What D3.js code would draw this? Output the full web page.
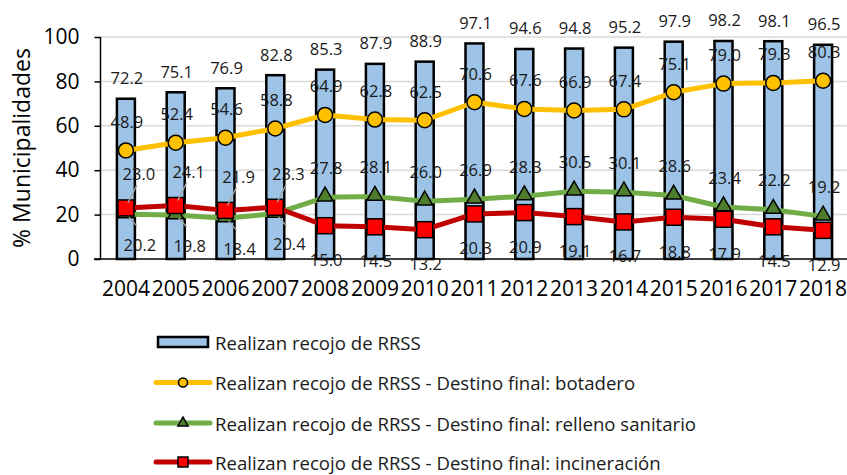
<!DOCTYPE html>
<html>
<head>
<meta charset="utf-8">
<script src="https://cdn.jsdelivr.net/npm/d3@7"></script>
<style>
  body { margin: 0; background: #fff; }
  svg { display: block; font-family: "Open Sans", sans-serif; }
</style>
</head>
<body>
<div id="chart"></div>
<script>
const years = ['2004','2005','2006','2007','2008','2009','2010','2011','2012','2013','2014','2015','2016','2017','2018'];
const recojo = [72.2, 75.1, 76.9, 82.8, 85.3, 87.9, 88.9, 97.1, 94.6, 94.8, 95.2, 97.9, 98.2, 98.1, 96.5];
const botadero = [48.9, 52.4, 54.6, 58.8, 64.9, 62.8, 62.5, 70.6, 67.6, 66.9, 67.4, 75.1, 79.0, 79.3, 80.3];
const relleno = [20.2, 19.8, 18.4, 20.4, 27.8, 28.1, 26.0, 26.9, 28.3, 30.5, 30.1, 28.6, 23.4, 22.2, 19.2];
const incineracion = [23.0, 24.1, 21.9, 23.3, 15.0, 14.5, 13.2, 20.3, 20.9, 19.1, 16.7, 18.8, 17.9, 14.5, 12.9];
const yTicks = [0, 20, 40, 60, 80, 100];
const legendLabels = [
  'Realizan recojo de RRSS',
  'Realizan recojo de RRSS - Destino final: botadero',
  'Realizan recojo de RRSS - Destino final: relleno sanitario',
  'Realizan recojo de RRSS - Destino final: incineración'
];

const width = 847, height = 475;
const plotLeft = 101, plotRight = 848, plotTop = 37, plotBottom = 259;

const svg = d3.select('#chart').append('svg')
  .attr('width', width)
  .attr('height', height);

const x = d3.scaleBand().domain(years).range([plotLeft, plotRight]).padding(0);
const cx = d => x(d) + x.bandwidth() / 2;
const y = d3.scaleLinear().domain([0, 100]).range([plotBottom, plotTop]);

// gridlines
svg.append('g')
  .selectAll('line')
  .data(yTicks.slice(1))
  .enter().append('line')
  .attr('x1', plotLeft).attr('x2', width)
  .attr('y1', d => y(d)).attr('y2', d => y(d))
  .attr('stroke', '#d9d9d9')
  .attr('stroke-width', 1.5);

// y axis
const yAxis = d3.axisLeft(y).tickValues(yTicks).tickSize(6).tickPadding(15);
const gy = svg.append('g')
  .attr('transform', 'translate(' + (plotLeft - 0.5) + ',0)')
  .call(yAxis);
gy.select('.domain').attr('stroke', '#000').attr('stroke-width', 1.5).attr('d', 'M0,' + plotTop + 'V' + plotBottom);
gy.selectAll('.tick line').attr('stroke', '#000').attr('stroke-width', 1.5);
gy.selectAll('.tick text')
  .attr('font-family', '"Open Sans", sans-serif')
  .attr('font-size', 21)
  .attr('fill', '#000');

svg.append('text')
  .attr('transform', 'translate(30,' + ((plotTop + plotBottom) / 2) + ') rotate(-90)')
  .attr('text-anchor', 'middle')
  .attr('font-size', 23)
  .attr('fill', '#000')
  .text('% Municipalidades');

// bars
const barW = 18;
svg.append('g')
  .selectAll('rect')
  .data(years)
  .enter().append('rect')
  .attr('x', d => cx(d) - barW / 2)
  .attr('width', barW)
  .attr('y', (d, i) => y(recojo[i]))
  .attr('height', (d, i) => y(0) - y(recojo[i]))
  .attr('fill', '#9dc3e6')
  .attr('stroke', '#000')
  .attr('stroke-width', 2.5);

// x axis
svg.append('line')
  .attr('x1', plotLeft - 7).attr('x2', width)
  .attr('y1', plotBottom).attr('y2', plotBottom)
  .attr('stroke', '#000')
  .attr('stroke-width', 1.5);

const xAxis = d3.axisBottom(x).tickSize(0).tickPadding(22);
const gx = svg.append('g')
  .attr('transform', 'translate(0,' + plotBottom + ')')
  .call(xAxis);
gx.select('.domain').remove();
gx.selectAll('.tick text')
  .attr('font-family', '"Open Sans", sans-serif')
  .attr('font-size', 21)
  .attr('fill', '#000');

// lines and markers
const line = vals => d3.line()
  .x((d, i) => cx(years[i]))
  .y(d => y(d))(vals);

function drawLine(vals, color) {
  svg.append('path')
    .attr('d', line(vals))
    .attr('fill', 'none')
    .attr('stroke', color)
    .attr('stroke-width', 5)
    .attr('stroke-linejoin', 'round');
}

drawLine(botadero, '#ffc000');
svg.append('g').selectAll('circle')
  .data(botadero)
  .enter().append('circle')
  .attr('cx', (d, i) => cx(years[i]))
  .attr('cy', d => y(d))
  .attr('r', 7.5)
  .attr('fill', '#ffc000')
  .attr('stroke', '#000')
  .attr('stroke-width', 1.5);

drawLine(relleno, '#70ad47');
const tri = d3.symbol().type(d3.symbolTriangle).size(110);
svg.append('g').selectAll('path')
  .data(relleno)
  .enter().append('path')
  .attr('d', tri)
  .attr('transform', (d, i) => 'translate(' + cx(years[i]) + ',' + (y(d) - 1) + ')')
  .attr('fill', '#4e7d2c')
  .attr('stroke', '#000')
  .attr('stroke-width', 1.5);

drawLine(incineracion, '#c00000');
svg.append('g').selectAll('rect')
  .data(incineracion)
  .enter().append('rect')
  .attr('x', (d, i) => cx(years[i]) - 8)
  .attr('y', d => y(d) - 8)
  .attr('width', 16)
  .attr('height', 16)
  .attr('fill', '#ff0000')
  .attr('stroke', '#000')
  .attr('stroke-width', 1.5);

// leader lines for the first four years
const early = i => i < 4;
const leaders = svg.append('g').attr('stroke', '#a6a6a6').attr('stroke-width', 1.3);
years.forEach((yr, i) => {
  if (!early(i)) return;
  leaders.append('line')
    .attr('x1', cx(yr) + 2).attr('y1', y(incineracion[i]) - 5)
    .attr('x2', cx(yr) + 11).attr('y2', y(incineracion[i]) - 23);
  leaders.append('line')
    .attr('x1', cx(yr) + 3).attr('y1', y(relleno[i]) + 3)
    .attr('x2', cx(yr) + 11).attr('y2', y(relleno[i]) + 12);
});

// data labels
const fmt = d3.format('.1f');
function labels(vals, dx, dy) {
  svg.append('g').selectAll('text')
    .data(vals)
    .enter().append('text')
    .attr('x', (d, i) => cx(years[i]) + dx(i))
    .attr('y', (d, i) => y(d) + dy(i))
    .attr('text-anchor', 'middle')
    .attr('dominant-baseline', 'central')
    .attr('font-size', 16.5)
    .attr('fill', '#1a1a1a')
    .text(d => fmt(d));
}

labels(recojo, () => 1, () => -21);
labels(botadero, () => 1, () => -29);
labels(relleno, i => early(i) ? 14 : 1, i => early(i) ? 30 : -30);
labels(incineracion, i => early(i) ? 13 : 1, i => early(i) ? -34 : 34);

// legend
const legY = [342, 382.5, 423, 462];
const lx1 = 156, lx2 = 210, lmx = 183;
const leg = svg.append('g');
leg.append('rect')
  .attr('x', lx1 + 2).attr('y', legY[0] - 5)
  .attr('width', lx2 - lx1 - 4).attr('height', 10)
  .attr('fill', '#9dc3e6')
  .attr('stroke', '#000')
  .attr('stroke-width', 2.5);

const legColors = ['#ffc000', '#70ad47', '#c00000'];
legColors.forEach((c, k) => {
  leg.append('line')
    .attr('x1', lx1).attr('x2', lx2)
    .attr('y1', legY[k + 1]).attr('y2', legY[k + 1])
    .attr('stroke', c)
    .attr('stroke-width', 5)
    .attr('stroke-linecap', 'round');
});
leg.append('circle')
  .attr('cx', lmx).attr('cy', legY[1]).attr('r', 4.5)
  .attr('fill', '#ffc000').attr('stroke', '#000').attr('stroke-width', 1.5);
leg.append('path')
  .attr('d', d3.symbol().type(d3.symbolTriangle).size(45))
  .attr('transform', 'translate(' + lmx + ',' + legY[2] + ')')
  .attr('fill', '#4e7d2c').attr('stroke', '#000').attr('stroke-width', 1.5);
leg.append('rect')
  .attr('x', lmx - 5).attr('y', legY[3] - 5)
  .attr('width', 10).attr('height', 10)
  .attr('fill', '#ff0000').attr('stroke', '#000').attr('stroke-width', 1.5);

leg.selectAll('text')
  .data(legendLabels)
  .enter().append('text')
  .attr('x', 215)
  .attr('y', (d, i) => legY[i])
  .attr('dominant-baseline', 'central')
  .attr('font-size', 18.6)
  .attr('fill', '#1a1a1a')
  .text(d => d);
</script>
</body>
</html>
